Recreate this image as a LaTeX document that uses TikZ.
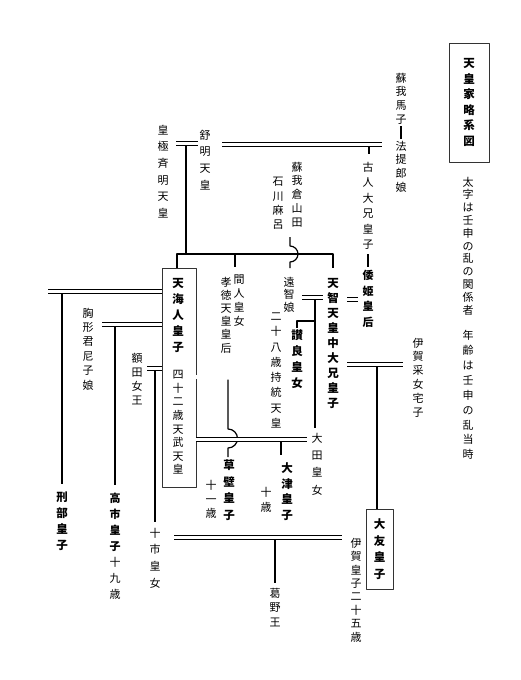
\documentclass[tikz,border=0pt]{standalone}
\usepackage{fontspec}
\setmainfont{Noto Sans CJK JP}
\makeatletter
\newcommand\tate[2][16pt]{\vbox{\baselineskip=#1\lineskiplimit=-20pt\@tfor\tate@c:=#2\do{\hbox to 1em{\hss\tate@c\hss}}}}
\makeatother
\newcommand\tbar{\rule[-2.5pt]{1.4pt}{13pt}}
\begin{document}
\begin{tikzpicture}[x=1pt,y=-1pt,line join=round,
  nm/.style={inner sep=0pt,font=\fontsize{11}{13}\selectfont},
  bnm/.style={inner sep=0pt,font=\fontsize{11.5}{13}\selectfont\bfseries},
  bx/.style={draw=black!80,line width=0.8pt},
  kin/.style={line width=1.2pt},
  marr/.style={double,double distance=3.4pt,line width=0.7pt}]
\fill[white] (0,0) rectangle (520,680);
\useasboundingbox (0,0) rectangle (520,680);
\node[bx,bnm,minimum width=40pt,minimum height=119pt] (title) at (469,102.5) {\tate[15.6pt]{天皇家略系図}};
\node[nm] (note1) at (468,246) {\tate[12.8pt]{太字は壬申の乱の関係者}};
\node[nm] (note2) at (468,395) {\tate[14.9pt]{年齢は壬申の乱当時}};
\node[nm] (kogyoku) at (163,171.5) {\tate[16.6pt]{皇極斉明天皇}};
\node[nm] (jomei) at (205,160) {\tate[16.7pt]{舒明天皇}};
\node[nm] (hote) at (401,132.5) {\tate[13.6pt]{蘇我馬子\tbar 法提郎娘}};
\node[nm] (furu) at (368,244.5) {\tate[15.5pt]{古人大兄皇子\tbar{\bfseries 倭}{\bfseries 姫}{\bfseries 皇}{\bfseries 后}}};
\node[nm] (kura) at (297,194.5) {\tate[13.75pt]{蘇我倉山田}};
\node[nm] (ishi) at (278,203.5) {\tate[14.3pt]{石川麻呂}};
\node[nm] (hashi) at (239,301) {\tate[14pt]{間人皇女}};
\node[nm] (kotoku) at (226,315) {\tate[13.2pt]{孝徳天皇皇后}};
\node[nm] (ochi) at (289,294.5) {\tate[12.5pt]{遠智娘}};
\node[bx,minimum width=34pt,minimum height=219pt] (tenmubox) at (179,377.5) {};
\node[bnm] (tenmu) at (178,315) {\tate[16pt]{天海人皇子}};
\node[nm] (tenmu-a) at (178,422.5) {\tate[13.6pt]{四十二歳天武天皇}};
\node[bnm] (tenji) at (333,343) {\tate[15pt]{天智天皇中大兄皇子}};
\node[bnm] (sasara) at (297,359) {\tate[16pt]{讃良皇女}};
\node[nm] (jito) at (276,370.5) {\tate[15.3pt]{二十八歳持統天皇}};
\node[nm] (ota) at (317,464) {\tate[17.3pt]{大田皇女}};
\node[nm] (yaka) at (418,377.5) {\tate[13.8pt]{伊賀采女宅子}};
\node[nm] (amako) at (88,349) {\tate[14.4pt]{胸形君尼子娘}};
\node[nm] (nukata) at (137,379) {\tate[14pt]{額田女王}};
\node[bnm] (osakabe) at (62,521) {\tate[16pt]{刑部皇子}};
\node[nm] (takechi) at (115,546.5) {\tate[16pt]{{\bfseries 高}{\bfseries 市}{\bfseries 皇}{\bfseries 子}十九歳}};
\node[bnm] (kusakabe) at (229,490) {\tate[16.7pt]{草壁皇子}};
\node[nm] (kusakabe-a) at (211,499) {\tate[14pt]{十一歳}};
\node[bnm] (otsu) at (287,491.5) {\tate[15.7pt]{大津皇子}};
\node[nm] (otsu-a) at (266,499.5) {\tate[15pt]{十歳}};
\node[nm] (toichi) at (155,558) {\tate[16.7pt]{十市皇女}};
\node[bx,bnm,minimum width=27pt,minimum height=80pt] (otomo) at (379.5,549) {\tate[16.7pt]{大友皇子}};
\node[nm] (otomo-a) at (356,590) {\tate[13.4pt]{伊賀皇子二十五歳}};
\node[nm] (kadono) at (275,607.5) {\tate[14.5pt]{葛野王}};
\foreach \n/\x/\y in {kj-l/176/143.5, kj-r/198/143.5, jh-l/222/144.5, jh-r/382/144.5,
  fu-t/369/147, fu-b/369/154, jc-t/186/145.5, jc-b/186/254,
  ch-l/177/254, ch-r/333/254, ch-m/235/254, hs-b/235/267,
  oc-t/290/237, oc-j/290/246, oc-b/290/268,
  to-l/302/297.5, to-r/323/297.5, tod-t/315/300, tod-b/315/428, sa-j/315/321, sa-c/297/321, sa-b/297/328,
  ty-l/347/299.5, ty-r/358/299.5, ti-l/347/364.5, ti-r/403/364.5, ot-t/377/367,
  ka-l/48/291.5, os-t/62/294, os-b/62/484, ma-l/102/324.5, tk-t/115/327, tk-b/115/485,
  nu-l/147/368.5, tc-t/155/371, tc-b/155/522, sr-r/257/377, ku-t/228/379.5, ku-j/228/429, ku-b/228/457,
  od-r/307/439.5, ou-t/281/442, ou-b/281/455, tt-l/174/537.5, tt-r/342/537.5, kd-t/275/540, kd-b/275/583}
  \coordinate (\n) at (\x,\y);
\draw[marr] (kj-l) -- (kj-r);
\draw[marr] (jh-l) -- (jh-r);
\draw[kin] (fu-t) -- (fu-b);
\draw[kin] (jc-t) -- (jc-b);
\draw[kin] (ch-l |- tenmubox.north) -- (ch-l) -- (ch-r) -- (ch-r |- tenmubox.north);
\draw[kin] (ch-m) -- (hs-b);
\draw[kin] (oc-t) -- (oc-j) arc[start angle=-90,end angle=90,radius=8] -- (oc-b);
\draw[marr] (to-l) -- (to-r);
\draw[kin] (tod-t) -- (tod-b);
\draw[kin] (sa-j) -- (sa-c) -- (sa-b);
\draw[marr] (ty-l) -- (ty-r);
\draw[marr] (ti-l) -- (ti-r);
\draw[kin] (ot-t) -- (ot-t |- otomo.north);
\draw[marr] (ka-l) -- (ka-l -| tenmubox.west);
\draw[kin] (os-t) -- (os-b);
\draw[marr] (ma-l) -- (ma-l -| tenmubox.west);
\draw[kin] (tk-t) -- (tk-b);
\draw[marr] (nu-l) -- (nu-l -| tenmubox.west);
\draw[kin] (tc-t) -- (tc-b);
\draw[marr] (sr-r -| tenmubox.east) -- (sr-r);
\draw[kin] (ku-t) -- (ku-j) arc[start angle=-90,end angle=90,radius=9.5] -- (ku-b);
\draw[marr] (od-r -| tenmubox.east) -- (od-r);
\draw[kin] (ou-t) -- (ou-b);
\draw[marr] (tt-l) -- (tt-r);
\draw[kin] (kd-t) -- (kd-b);
\end{tikzpicture}
\end{document}
